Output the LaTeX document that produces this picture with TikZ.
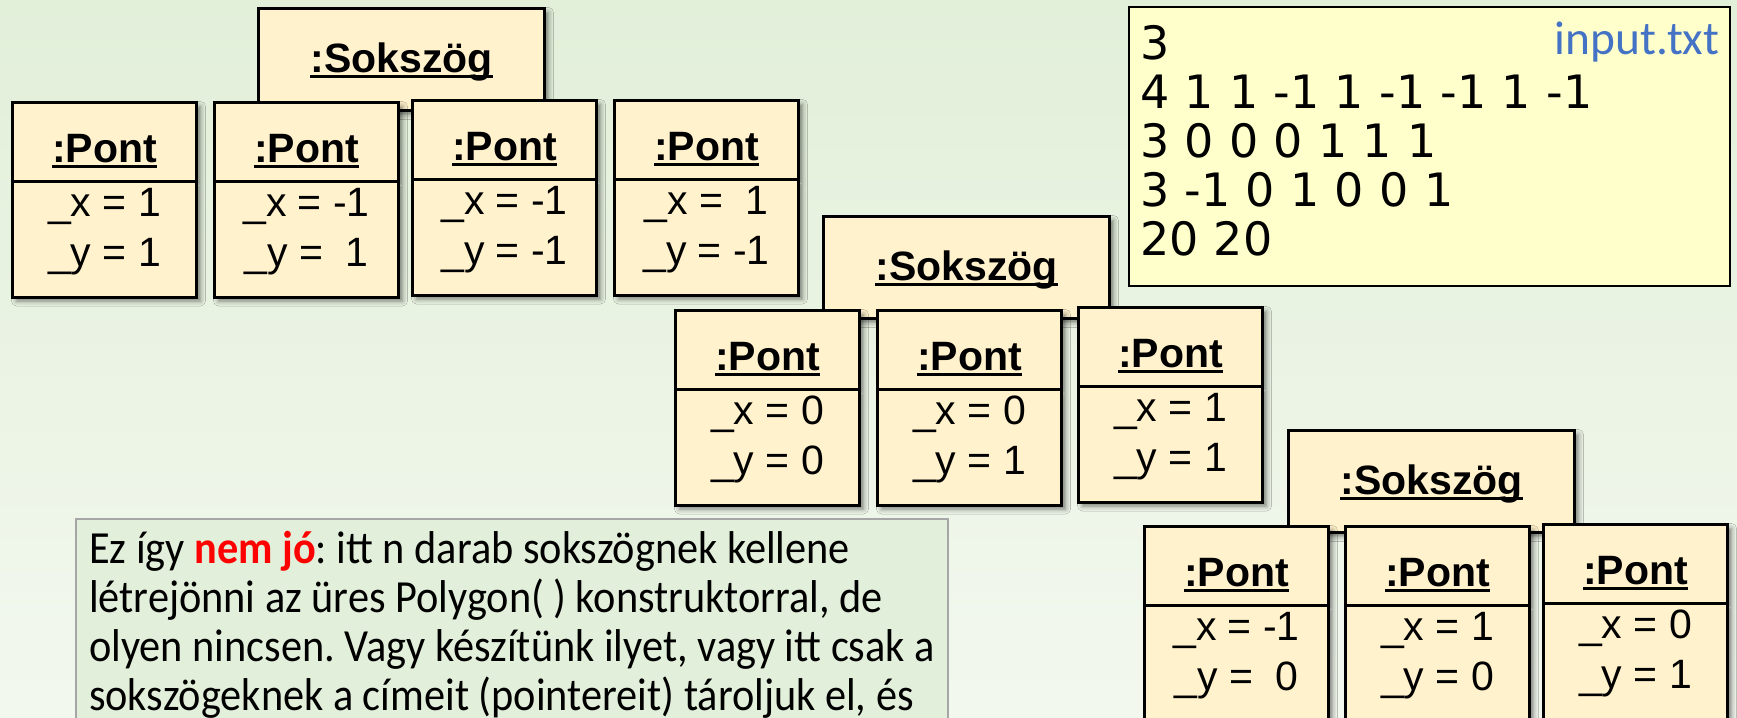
\documentclass[tikz,border=0pt]{standalone}
\usepackage{fontspec}
\setmainfont{Liberation Sans}
\newfontfamily\numfont{DejaVu Sans}
\newfontfamily\notefont[FakeStretch=0.92]{Carlito}
\newfontfamily\filefont{Carlito}
\usetikzlibrary{positioning}
\usetikzlibrary{shapes.multipart}
\usetikzlibrary{shadows.blur}

\definecolor{bgtop}{HTML}{E2EFD9}
\definecolor{bgbot}{HTML}{F3F8EF}
\definecolor{boxfill}{HTML}{FFF2CC}
\definecolor{inputfill}{HTML}{FFFFCC}
\definecolor{notefill}{HTML}{E2EFDA}
\definecolor{noteline}{HTML}{A6A6A6}
\definecolor{fileblue}{HTML}{4472C4}
\definecolor{notered}{HTML}{FF0000}

% underlined bold object name
\newcommand{\objname}[1]{\setbox0\hbox{\bfseries #1}\rlap{\rule[-2.5pt]{\wd0}{1.2pt}}\box0}
% :Pont object with its two fields
\newcommand{\pontbody}[2]{\rule[-8.75pt]{0pt}{38pt}\objname{:Pont}\nodepart{second}\rule{0pt}{16.5pt}\_x = #1\\\_y = #2\rule[-14.75pt]{0pt}{14.75pt}}

\tikzset{
  objshadow/.style={blur shadow={shadow xshift=2pt, shadow yshift=-2pt, shadow blur radius=2.5pt, shadow opacity=50}},
  sokszog/.style={draw, line width=1.5pt, fill=boxfill, minimum width=143pt, inner sep=0pt, objshadow, font=\fontsize{20.5}{25}\selectfont},
  pont/.style={rectangle split, rectangle split parts=2, draw, line width=1.5pt, fill=boxfill, minimum width=92pt, inner xsep=0pt, inner ysep=0pt, align=center, objshadow, font=\fontsize{20.5}{25}\selectfont},
  inputbox/.style={draw, line width=1pt, fill=inputfill, text width=289.5pt, inner xsep=5.5pt, inner ysep=0pt, align=left, font=\numfont\fontsize{23}{24.5}\selectfont},
  notebox/.style={draw=noteline, line width=1pt, fill=notefill, minimum width=436pt, inner xsep=0pt, inner ysep=0pt, align=left, font=\notefont\fontsize{23}{24.5}\selectfont\frenchspacing},
}

\begin{document}
\begin{tikzpicture}[x=0.5pt, y=-0.5pt]
  \useasboundingbox (0,0) rectangle (1737,718);
  \clip (0,0) rectangle (1737,718);
  \shade[top color=bgtop, bottom color=bgbot] (0,0) rectangle (1737,718);

  % first polygon: a square
  \node (sok1) [sokszog, anchor=north west] at (257,7) {\rule[-19pt]{0pt}{51pt}\objname{:Sokszög}};
  \node (p1) [pont, anchor=north west] at (11,101) {\pontbody{1}{1}};
  \node (p2) [pont, right=7.5pt of p1] {\pontbody{-1}{\ 1}};
  \node (p3) [pont, right=5.5pt of p2, yshift=1pt] {\pontbody{-1}{-1}};
  \node (p4) [pont, right=7.5pt of p3] {\pontbody{\ 1}{-1}};

  % second polygon
  \node (sok2) [sokszog, anchor=north west] at (822,215) {\rule[-19pt]{0pt}{51pt}\objname{:Sokszög}};
  \node (p5) [pont, anchor=north west] at (674,309) {\pontbody{0}{0}};
  \node (p6) [pont, right=7.5pt of p5] {\pontbody{0}{1}};
  \node (p7) [pont, right=7pt of p6, yshift=1.5pt] {\pontbody{1}{1}};

  % third polygon
  \node (sok3) [sokszog, anchor=north west] at (1287,429) {\rule[-19pt]{0pt}{51pt}\objname{:Sokszög}};
  \node (p8) [pont, anchor=north west] at (1143,525) {\pontbody{-1}{\ 0}};
  \node (p9) [pont, right=7pt of p8] {\pontbody{1}{0}};
  \node (p10) [pont, right=5.5pt of p9, yshift=1pt] {\pontbody{0}{1}};

  % the input file
  \node (input) [inputbox, anchor=north west] at (1128,6) {\rule{0pt}{26pt}3\\4 1 1 -1 1 -1 -1 1 -1\\3 0 0 0 1 1 1\\3 -1 0 1 0 0 1\\20 20\rule[-15.5pt]{0pt}{15.5pt}};
  \node (fname) [anchor=base east, xshift=-5.5pt, yshift=-24pt, inner sep=0pt, text=fileblue, font=\filefont\fontsize{23.7}{28}\selectfont] at (input.north east) {input.txt};

  \node (note) [notebox, anchor=north west] at (75,518) {\rule{0pt}{22pt}Ez így \textcolor{notered}{\bfseries nem jó}: itt n darab sokszögnek kellene\\létrejönni az üres Polygon( ) konstruktorral, de\\olyen nincsen. Vagy készítünk ilyet, vagy itt csak a\\sokszögeknek a címeit (pointereit) tároljuk el, és\rule[-20pt]{0pt}{20pt}};
\end{tikzpicture}
\end{document}
